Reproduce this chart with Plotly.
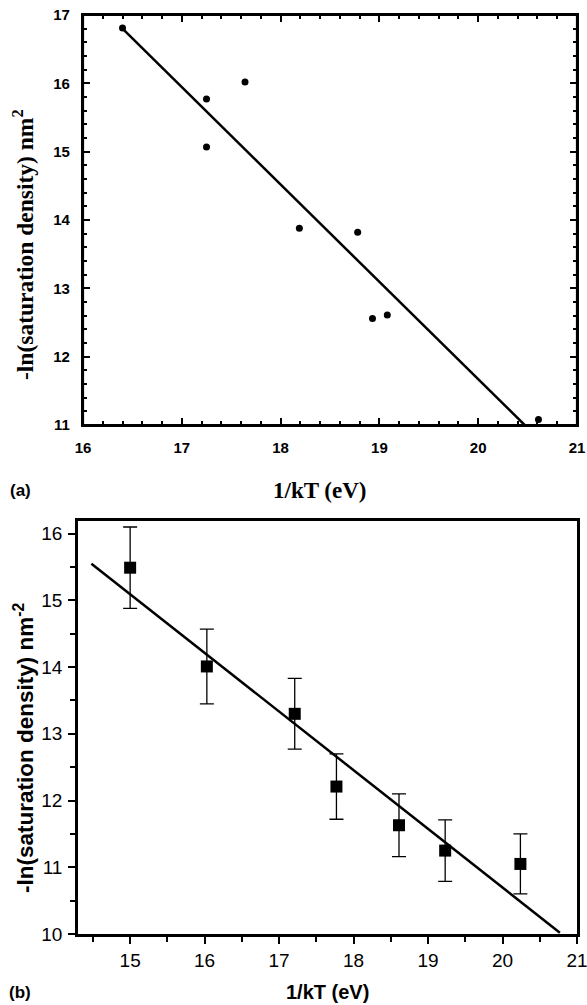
import plotly.graph_objects as go

# ---------------- data: panel (a) ----------------
a_x = [16.40, 17.25, 17.25, 17.64, 18.19, 18.78, 18.93, 19.08, 20.61]
a_y = [16.81, 15.77, 15.07, 16.02, 13.88, 13.82, 12.56, 12.61, 11.08]
a_fit_x = [16.40, 20.47]
a_fit_y = [16.80, 11.00]

# ---------------- data: panel (b) ----------------
b_x = [15.00, 16.03, 17.21, 17.77, 18.61, 19.23, 20.24]
b_y = [15.49, 14.01, 13.30, 12.21, 11.63, 11.25, 11.05]
b_err = [0.61, 0.56, 0.53, 0.49, 0.47, 0.46, 0.45]
b_fit_x = [14.48, 20.77]
b_fit_y = [15.55, 10.02]

a_xticks = [16, 17, 18, 19, 20, 21]
a_yticks = [11, 12, 13, 14, 15, 16, 17]
b_xticks = [15, 16, 17, 18, 19, 20, 21]
b_yticks = [10, 11, 12, 13, 14, 15, 16]

W, H = 587, 1005

def px_x(p):
    return p / W

def px_y(p):
    return 1 - p / H

fig = go.Figure()

fig.add_trace(go.Scatter(x=a_fit_x, y=a_fit_y, mode="lines",
                         line=dict(color="black", width=2.5),
                         xaxis="x", yaxis="y", showlegend=False, cliponaxis=False))
fig.add_trace(go.Scatter(x=a_x, y=a_y, mode="markers",
                         marker=dict(color="black", size=7, symbol="circle"),
                         xaxis="x", yaxis="y", showlegend=False, cliponaxis=False))

fig.add_trace(go.Scatter(x=b_fit_x, y=b_fit_y, mode="lines",
                         line=dict(color="black", width=2.5),
                         xaxis="x2", yaxis="y2", showlegend=False))
fig.add_trace(go.Scatter(x=b_x, y=b_y, mode="markers",
                         marker=dict(color="black", size=12, symbol="square"),
                         error_y=dict(type="data", array=b_err, visible=True,
                                      color="black", thickness=1.3, width=7),
                         xaxis="x2", yaxis="y2", showlegend=False))

tick_a = dict(family="Liberation Sans, Arial, sans-serif", size=15, color="black", weight="bold")
tick_b = dict(family="Liberation Sans Narrow, Arial Narrow, Liberation Sans, Arial, sans-serif",
              size=19, color="black")

common = dict(showgrid=False, zeroline=False, automargin=False,
              ticklabeloverflow="allow", tickcolor="black", linecolor="black",
              showline=True)

fig.update_layout(
    width=W, height=H,
    margin=dict(l=0, r=0, t=0, b=0),
    paper_bgcolor="white", plot_bgcolor="white",
    xaxis=dict(domain=[px_x(83), px_x(577)], range=[16, 21], anchor="y",
               tickvals=a_xticks, ticks="inside", ticklen=7, tickwidth=1.8,
               linewidth=2.2, mirror="allticks",
               tickfont=tick_a, ticklabelstandoff=8,
               minor=dict(dtick=0.2, ticks="inside", ticklen=4, tickwidth=1.5,
                          tickcolor="black", showgrid=False), **common),
    yaxis=dict(domain=[px_y(425), px_y(15)], range=[11, 17], anchor="x",
               tickvals=a_yticks, ticks="inside", ticklen=7, tickwidth=1.8,
               linewidth=2.2, mirror="allticks",
               tickfont=tick_a, ticklabelstandoff=8,
               minor=dict(dtick=0.2, ticks="inside", ticklen=4, tickwidth=1.5,
                          tickcolor="black", showgrid=False), **common),
    xaxis2=dict(domain=[px_x(78), px_x(577)], range=[14.3, 21], anchor="y2",
                tickvals=b_xticks, ticks="outside", ticklen=7, tickwidth=2,
                linewidth=2.5, mirror=True,
                tickfont=tick_b, ticklabelstandoff=0,
                minor=dict(dtick=0.5, ticks="outside", ticklen=5, tickwidth=2,
                           tickcolor="black", showgrid=False), **common),
    yaxis2=dict(domain=[px_y(934), px_y(521)], range=[10, 16.19], anchor="x2",
                tickvals=b_yticks, ticks="outside", ticklen=7, tickwidth=2,
                linewidth=2.5, mirror=True,
                tickfont=tick_b, ticklabelstandoff=2,
                minor=dict(dtick=0.5, ticks="outside", ticklen=5, tickwidth=2,
                           tickcolor="black", showgrid=False), **common),
    shapes=[dict(type="rect", xref="x domain", yref="y domain",
                 x0=0, x1=1, y0=0, y1=1, line=dict(color="black", width=2.2),
                 layer="above")],
)

serif_t = dict(family="Liberation Serif, Times New Roman, serif", size=23.5, color="black")
serif_x = dict(family="Liberation Serif, Times New Roman, serif", size=23, color="black")
sans_t = dict(family="Liberation Sans Narrow, Arial Narrow, Liberation Sans, Arial, sans-serif",
              size=22.5, color="black")
sans_x = dict(family="Liberation Sans Narrow, Arial Narrow, Liberation Sans, Arial, sans-serif",
              size=20, color="black")

annots = [
    dict(text="<b>-ln(saturation density) nm<sup>2</sup></b>", x=px_x(23), y=px_y(245),
         textangle=-90, font=serif_t),
    dict(text="<b>1/kT (eV)</b>", x=px_x(320), y=px_y(490), font=serif_x),
    dict(text="<b>(a)</b>", x=px_x(20), y=px_y(490),
         font=dict(family="Liberation Sans, Arial, sans-serif", size=17, color="black")),
    dict(text="<b>-ln(saturation density) nm<sup>-2</sup></b>", x=px_x(24), y=px_y(748),
         textangle=-90, font=sans_t),
    dict(text="<b>1/kT (eV)</b>", x=px_x(327), y=px_y(992), font=sans_x),
    dict(text="<b>(b)</b>", x=px_x(20), y=px_y(992),
         font=dict(family="Liberation Sans, Arial, sans-serif", size=17, color="black")),
]
for a in annots:
    a.update(xref="paper", yref="paper", showarrow=False, xanchor="center", yanchor="middle")
fig.update_layout(annotations=annots)

fig.write_html("out.html",
               config={"displayModeBar": False},
               post_script="document.body.style.margin='0';"
                           "document.body.style.overflow='hidden';")
